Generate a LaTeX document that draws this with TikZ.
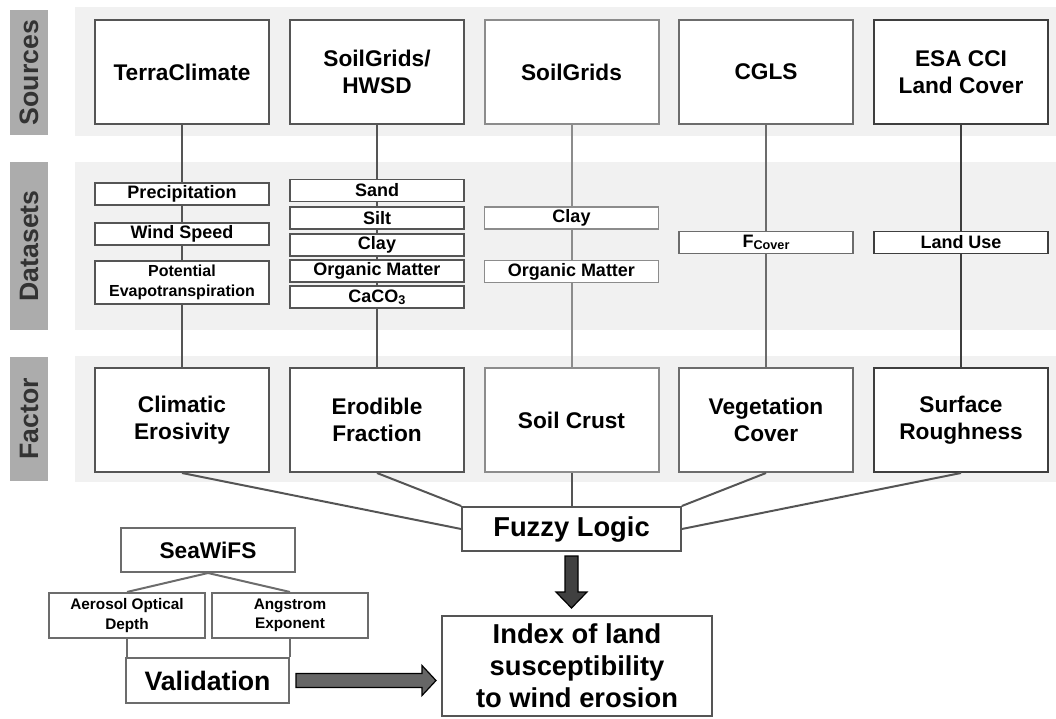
\documentclass[tikz,border=0pt]{standalone}
\usepackage{fontspec}
\setmainfont{Liberation Sans}
\usepackage{tikz}
\usetikzlibrary{calc}

\definecolor{bandbg}{RGB}{241,241,241}
\definecolor{tabgray}{RGB}{172,172,172}
\definecolor{linegray}{RGB}{85,85,85}
\definecolor{lightline}{RGB}{140,140,140}
\definecolor{midline}{RGB}{108,108,108}
\definecolor{darkline}{RGB}{62,62,62}

\newcommand{\lowtext}[1]{\raisebox{-1.5pt}{\fontsize{9.5}{10}\selectfont #1}}

\tikzset{
  srcbox/.style={draw=linegray, line width=1.5pt, fill=white, minimum width=130.5pt, minimum height=78pt, inner sep=0pt, align=center, font=\fontsize{17}{20.5}\selectfont\bfseries},
  setbox/.style={draw=linegray, line width=1.3pt, fill=white, minimum width=130.5pt, minimum height=16.5pt, inner sep=0pt, align=center, font=\fontsize{13.5}{14}\selectfont\bfseries},
  tabbox/.style={fill=tabgray, rotate=90, minimum height=28.5pt, inner sep=0pt, text=black!80, font=\fontsize{20}{24}\selectfont\bfseries},
  link/.style={draw=linegray, line width=1.5pt},
  fatarrow/.style={draw=black, line width=0.9pt, line join=miter},
}

\begin{document}
\begin{tikzpicture}[x=0.75pt,y=0.75pt,yscale=-1,xscale=1]
    \useasboundingbox (0,0) rectangle (1056,718);

    %Shape: bands
    \fill[bandbg] (75,7) rectangle (1056,136);
    \fill[bandbg] (75,162) rectangle (1056,330);
    \fill[bandbg] (75,356) rectangle (1056,482);

    % Side tabs
    \node[tabbox, minimum width=93.75pt] (tabsrc) at (29,72.5) {Sources};
    \node[tabbox, minimum width=126pt] (tabset) at (29,246) {Datasets};
    \node[tabbox, minimum width=93pt] (tabfac) at (29,419) {Factor};

    % Sources
    \node[srcbox] (terra) at (182,72) {TerraClimate};
    \node[srcbox] (hwsd) at (377,72) {SoilGrids/\\HWSD};
    \node[srcbox, draw=lightline] (soilgrids) at (571.5,72) {SoilGrids};
    \node[srcbox, draw=midline] (cgls) at (766,72) {CGLS};
    \node[srcbox, draw=darkline] (esa) at (961,72) {ESA CCI\\Land Cover};

    % Factors
    \node[srcbox] (climatic) at (182,420) {Climatic\\Erosivity};
    \node[srcbox] (erodible) at (377,420) {Erodible\\Fraction};
    \node[srcbox, draw=lightline] (crust) at (571.5,420) {Soil Crust};
    \node[srcbox, draw=midline] (vegetation) at (766,420) {Vegetation\\Cover};
    \node[srcbox, draw=darkline] (roughness) at (961,420) {Surface\\Roughness};

    %Straight Lines: source to factor
    \draw[link] (terra) -- (climatic);
    \draw[link] (hwsd) -- (erodible);
    \draw[link, draw=lightline] (soilgrids) -- (crust);
    \draw[link, draw=midline] (cgls) -- (vegetation);
    \draw[link, draw=darkline] (esa) -- (roughness);

    % Datasets
    \node[setbox] (precip) at (182,194) {Precipitation};
    \node[setbox] (wind) at (182,234) {Wind Speed};
    \node[setbox, minimum height=32pt, font=\fontsize{12}{15}\selectfont\bfseries] (pet) at (182,282.5) {Potential\\Evapotranspiration};
    \node[setbox] (sand) at (377,190.5) {Sand};
    \node[setbox] (silt) at (377,218) {Silt};
    \node[setbox] (clayA) at (377,245) {Clay};
    \node[setbox] (organicA) at (377,271) {Organic Matter};
    \node[setbox] (caco) at (377,297) {CaCO\lowtext{3}};
    \node[setbox, draw=lightline] (clayB) at (571.5,218) {Clay};
    \node[setbox, draw=lightline] (organicB) at (571.5,271.5) {Organic Matter};
    \node[setbox, draw=midline] (fcover) at (766,242.5) {F\lowtext{Cover}};
    \node[setbox, draw=darkline] (landuse) at (961,242.5) {Land Use};

    % Fuzzy logic and index
    \node[srcbox, minimum width=164pt, minimum height=33pt, font=\fontsize{20.5}{24}\selectfont\bfseries] (fuzzy) at (571.5,529) {Fuzzy Logic};
    \node[srcbox, minimum width=202.5pt, minimum height=75pt, font=\fontsize{20.5}{24}\selectfont\bfseries] (index) at (577,666) {Index of land\\susceptibility\\to wind erosion};

    %Straight Lines: factor to fuzzy
    \draw[link] (climatic.south) -- (fuzzy.west);
    \draw[link] (erodible.south) -- (fuzzy.north west);
    \draw[link] (crust) -- (fuzzy);
    \draw[link] (vegetation.south) -- (fuzzy.north east);
    \draw[link] (roughness.south) -- (fuzzy.east);

    % Validation part
    \node[srcbox, draw=midline, minimum height=33pt] (seawifs) at (208,550) {SeaWiFS};
    \node[setbox, draw=midline, minimum width=117pt, minimum height=34pt, font=\fontsize{11.5}{14.5}\selectfont\bfseries] (aod) at (127,615.5) {Aerosol Optical\\Depth};
    \node[setbox, draw=midline, minimum width=117pt, minimum height=34pt, font=\fontsize{11.5}{14.5}\selectfont\bfseries] (angstrom) at (290,615.5) {Angstrom\\Exponent};
    \node[srcbox, draw=midline, minimum width=122pt, minimum height=34pt, font=\fontsize{20}{24}\selectfont\bfseries] (validation) at (207.5,680.5) {Validation};

    \draw[link, draw=midline] (seawifs.south) -- (aod.north);
    \draw[link, draw=midline] (seawifs.south) -- (angstrom.north);
    \draw[link, draw=midline] (aod.south) -- (aod.south |- validation.north);
    \draw[link, draw=midline] (angstrom.south) -- (angstrom.south |- validation.north);

    %Shape: fat arrows
    \coordinate (downtip) at ($(fuzzy.south |- index.north)+(0,-7)$);
    \draw[fatarrow, fill=black!75] (downtip) -- ++(-15.5,-16) -- ++(9,0) -- ++(0,-36) -- ++(13,0) -- ++(0,36) -- ++(9,0) -- cycle;
    \coordinate (righttip) at ($(index.west |- validation.east)+(-5,0)$);
    \draw[fatarrow, fill=black!60] (righttip) -- ++(-14,-15) -- ++(0,8) -- ++(-126,0) -- ++(0,14) -- ++(126,0) -- ++(0,8) -- cycle;
\end{tikzpicture}
\end{document}
